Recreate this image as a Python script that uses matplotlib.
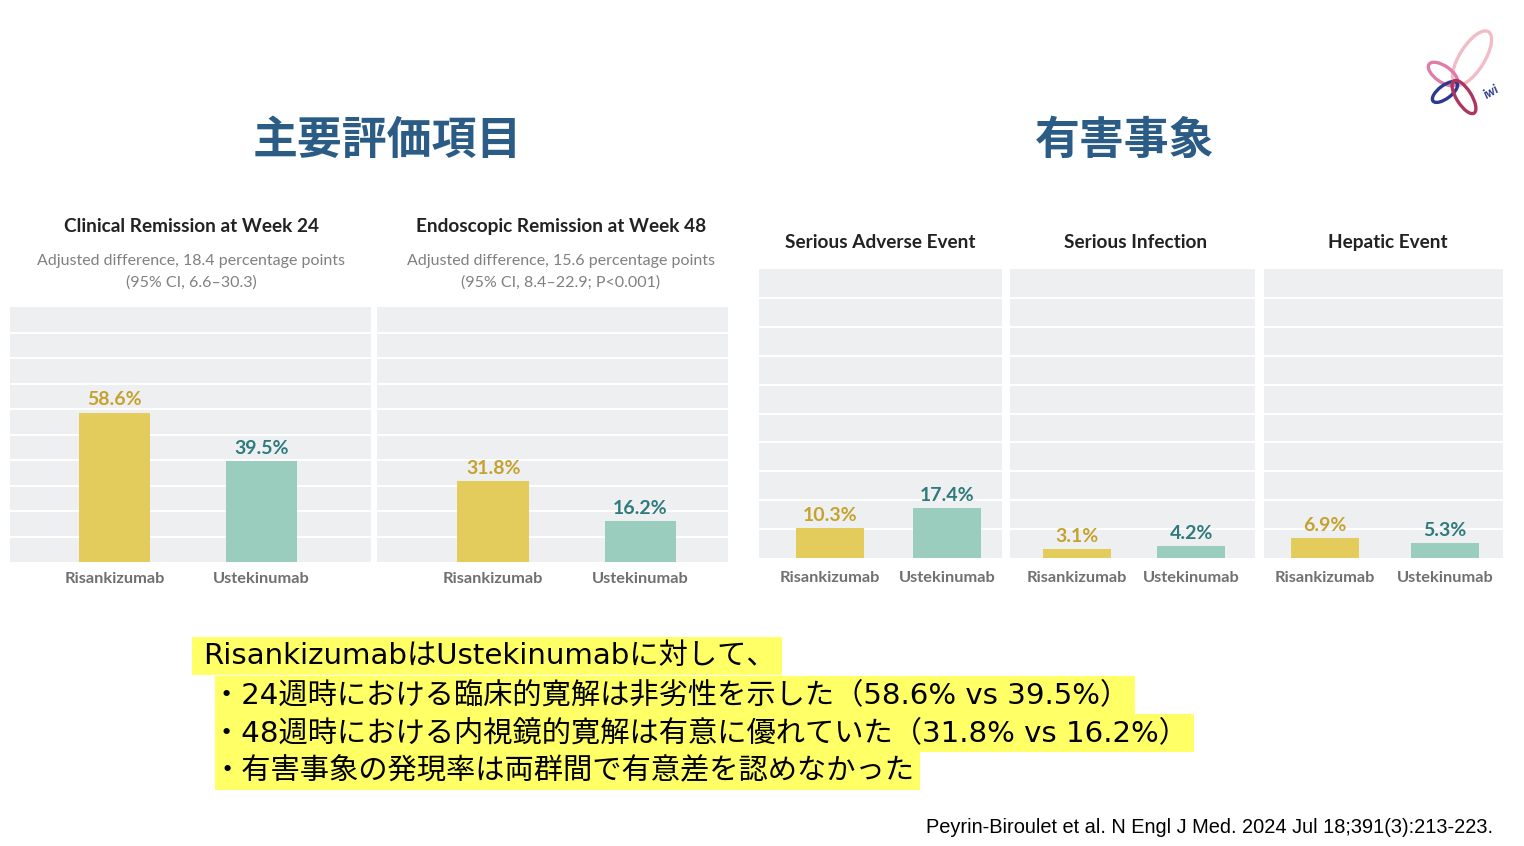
"""
NEJM risankizumab vs ustekinumab slide: efficacy (left) and safety (right) bar panels.
"""

import matplotlib
matplotlib.use("Agg")
import matplotlib.pyplot as plt
from matplotlib.patches import Ellipse, Rectangle

# ---------------------------------------------------------------- data
groups = ["Risankizumab", "Ustekinumab"]

eff_titles = ["Clinical Remission at Week 24", "Endoscopic Remission at Week 48"]
eff_subtitles = [
    "Adjusted difference, 18.4 percentage points\n(95% CI, 6.6\u201330.3)",
    "Adjusted difference, 15.6 percentage points\n(95% CI, 8.4\u201322.9; P<0.001)",
]
eff_risa = [58.6, 31.8]
eff_uste = [39.5, 16.2]

safe_titles = ["Serious Adverse Event", "Serious Infection", "Hepatic Event"]
safe_risa = [10.3, 3.1, 6.9]
safe_uste = [17.4, 4.2, 5.3]

summary_lines = [
    "RisankizumabはUstekinumabに対して、",
    "・24週時における臨床的寛解は非劣性を示した（58.6% vs 39.5%）",
    "・48週時における内視鏡的寛解は有意に優れていた（31.8% vs 16.2%）",
    "・有害事象の発現率は両群間で有意差を認めなかった",
]
citation = "Peyrin-Biroulet et al. N Engl J Med. 2024 Jul 18;391(3):213-223."

# ---------------------------------------------------------------- style
W, H = 1524, 846
C_RISA = "#E3CB5C"
C_USTE = "#9BCDBF"
C_RISA_TXT = "#C5A22E"
C_USTE_TXT = "#2E7A7D"
C_PANEL = "#EEEFF1"
C_HEAD = "#2B5C85"
C_HILITE = "#FFFF66"
LATIN = ["Lato", "DejaVu Sans"]
JP = ["Noto Sans CJK JP", "DejaVu Sans"]
JP_BODY = ["DejaVu Sans", "Noto Sans CJK JP"]   # Verdana-like Latin, CJK falls back

plt.rcParams["font.family"] = LATIN


def fx(x):
    return x / W


def fy(y):
    return 1 - y / H


def px_rect(x0, y0, x1, y1):
    return [x0 / W, 1 - y1 / H, (x1 - x0) / W, (y1 - y0) / H]


def bar_panel(rect, vals, xlim, width, label_pad):
    ax = fig.add_axes(rect)
    ax.set_facecolor(C_PANEL)
    ax.bar([0, 1], vals, width=width, color=[C_RISA, C_USTE], zorder=3)
    for x, v, c in zip([0, 1], vals, [C_RISA_TXT, C_USTE_TXT]):
        ax.annotate(f"{v}%", (x, v), xytext=(0, 3), textcoords="offset points",
                    ha="center", va="bottom", fontsize=14,
                    fontweight="bold", color=c, zorder=4)
    ax.set_ylim(0, 100)
    ax.set_xlim(*xlim)
    ax.set_yticks(range(10, 100, 10))
    ax.yaxis.grid(True, color="white", linewidth=1.4, zorder=1)
    ax.set_axisbelow(True)
    ax.set_yticklabels([])
    ax.set_xticks([0, 1])
    ax.set_xticklabels(groups, fontsize=11.8, fontweight="bold", color="#707070")
    ax.tick_params(length=0, pad=label_pad)
    for s in ax.spines.values():
        s.set_visible(False)
    return ax


fig = plt.figure(figsize=(W / 100, H / 100), dpi=100)
fig.patch.set_facecolor("white")

# ---------------------------------------------------------------- headings
fig.text(fx(387), fy(141), "主要評価項目", family=JP, fontsize=32.3,
         fontweight="bold", color=C_HEAD, ha="center", va="center")
fig.text(fx(1125), fy(141), "有害事象", family=JP, fontsize=32.3,
         fontweight="bold", color=C_HEAD, ha="center", va="center")

# ---------------------------------------------------------------- efficacy
eff_boxes = [(10, 371), (377, 728)]
eff_xlims = [(-0.712, 1.747), (-0.788, 1.594)]
eff_centers = [191, 561]
for i in range(2):
    x0, x1 = eff_boxes[i]
    bar_panel(px_rect(x0, 307, x1, 562), [eff_risa[i], eff_uste[i]],
              eff_xlims[i], 0.484, 7.5)
    fig.text(fx(eff_centers[i]), fy(226), eff_titles[i], fontsize=13.7,
             fontweight="bold", color="#222222", ha="center", va="center")
    fig.text(fx(eff_centers[i]), fy(272), eff_subtitles[i], fontsize=11.5,
             color="#808080", ha="center", va="center", linespacing=1.6)

# ---------------------------------------------------------------- safety
safe_boxes = [(759, 1002), (1010, 1255), (1264, 1503)]
safe_xlims = [(-0.605, 1.467), (-0.583, 1.557), (-0.511, 1.482)]
safe_widths = [0.58, 0.594, 0.568]
safe_centers = [880, 1136, 1388]
for i in range(3):
    x0, x1 = safe_boxes[i]
    bar_panel(px_rect(x0, 269, x1, 558), [safe_risa[i], safe_uste[i]],
              safe_xlims[i], safe_widths[i], 9.5)
    fig.text(fx(safe_centers[i]), fy(242), safe_titles[i], fontsize=13.7,
             fontweight="bold", color="#222222", ha="center", va="center")

# ---------------------------------------------------------------- summary box
line_y = [656, 695, 733, 771]
line_x = [203, 212, 212, 212]
hl_left = [192, 215, 215, 215]
texts = []
for s, x, y in zip(summary_lines, line_x, line_y):
    texts.append(fig.text(fx(x), fy(y), s, family=JP_BODY, fontsize=21.1,
                          color="black", ha="left", va="center", zorder=5))

fig.canvas.draw()
rend = fig.canvas.get_renderer()
for t, left, y in zip(texts, hl_left, line_y):
    bb = t.get_window_extent(rend)
    right = bb.x1 + 6
    fig.patches.append(Rectangle((fx(left), fy(y + 19)), (right - left) / W, 38 / H,
                                 transform=fig.transFigure, facecolor=C_HILITE,
                                 edgecolor="none", zorder=1))

fig.text(fx(1493), fy(827), citation, family=["Liberation Sans", "DejaVu Sans"],
         fontsize=14.4, color="black", ha="right", va="center")

# ---------------------------------------------------------------- logo
lg = fig.add_axes([0, 0, 1, 1], zorder=10)
lg.set_xlim(0, W)
lg.set_ylim(H, 0)
lg.axis("off")
logo_rings = [
    ((1472, 58), 62, 25, 58, "#F2BCC6"),
    ((1443, 74), 34, 16, -35, "#E07CA8"),
    ((1445, 92), 30, 13, 37, "#2B3990"),
    ((1464, 97), 38, 15, -58, "#B0355E"),
]
for c, w, h, ang, col in logo_rings:
    lg.add_patch(Ellipse(c, w, h, angle=-ang, facecolor="none",
                         edgecolor=col, linewidth=2.4))
lg.text(1491, 92, "iwi", fontsize=9, fontstyle="italic", fontweight="bold",
        color="#2B3990", rotation=30, ha="center", va="center")

fig.savefig("out.png", dpi=100)
